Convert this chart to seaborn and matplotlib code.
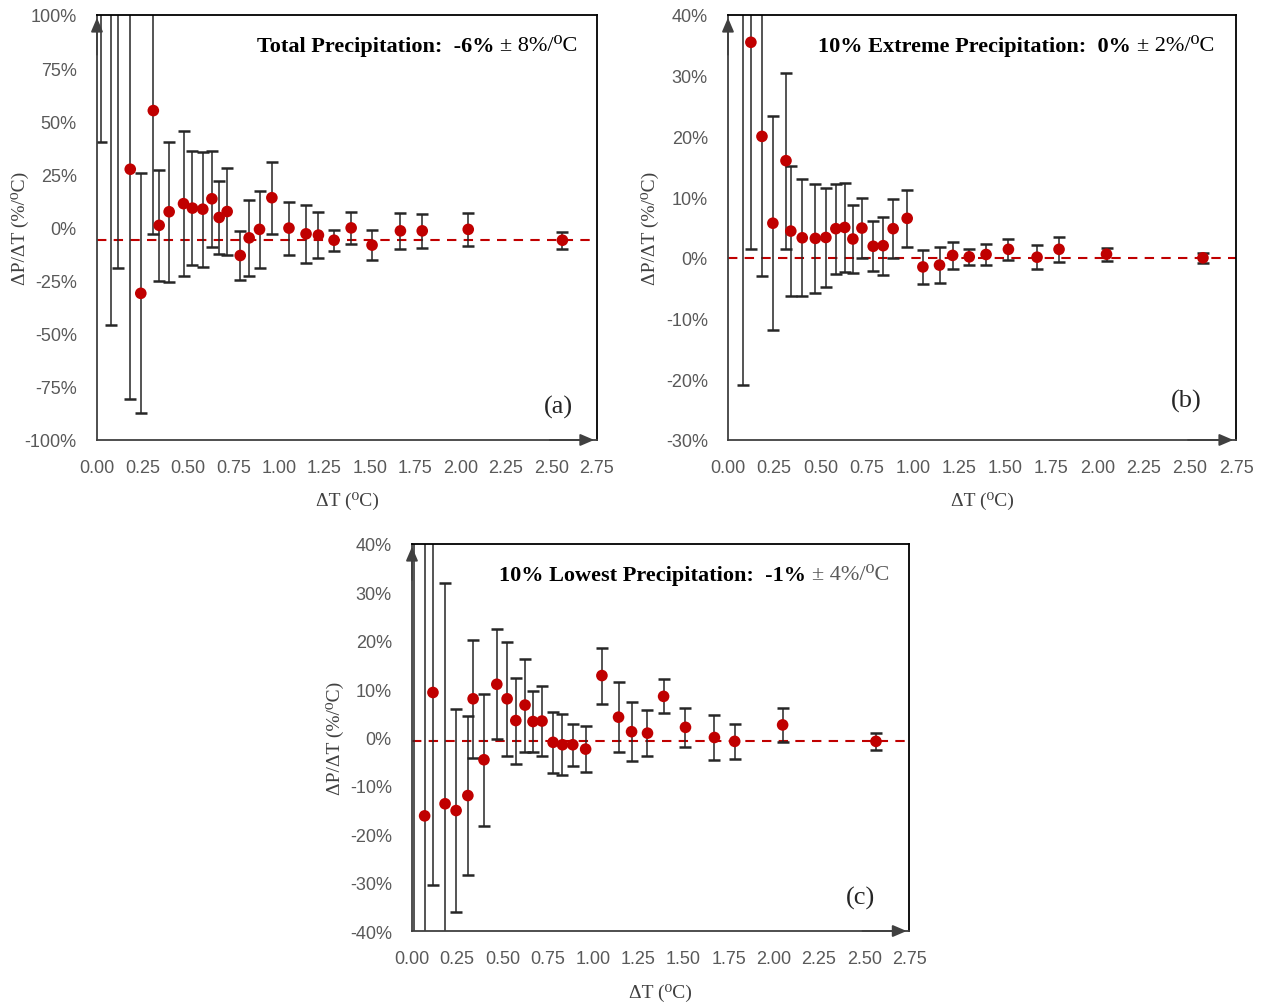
import matplotlib
matplotlib.use('Agg')
import matplotlib.pyplot as plt
from matplotlib.ticker import FuncFormatter, MultipleLocator
import pandas as pd
import seaborn as sns

# (a) Total precipitation
a_dt = [0.022, 0.077, 0.118, 0.183, 0.241, 0.31, 0.342, 0.397, 0.476, 0.525,
        0.582, 0.632, 0.672, 0.716, 0.788, 0.837, 0.894, 0.962, 1.056, 1.15,
        1.218, 1.304, 1.398, 1.513, 1.669, 1.789, 2.042, 2.56]
a_val = [160, 130, 140, 27.4, -31, 55, 1, 7.4, 11.2, 9.1,
         8.6, 13.5, 4.7, 7.5, -13.2, -4.9, -0.9, 14, -0.3, -3,
         -3.6, -6, -0.2, -8.3, -1.6, -1.6, -0.9, -6]
a_err = [120, 176, 159, 108, 56.5, 58, 26, 33, 34, 27,
         27, 22.5, 17, 20.5, 11.5, 18, 18, 17, 12.5, 13.5,
         11, 5, 7.5, 7, 8.5, 8, 7.7, 4]
a_mean = -6

# (b) 10% extreme precipitation
b_dt = [0.08, 0.124, 0.184, 0.243, 0.314, 0.34, 0.402, 0.473, 0.53, 0.584,
        0.632, 0.676, 0.725, 0.786, 0.84, 0.894, 0.97, 1.055, 1.145, 1.216,
        1.306, 1.397, 1.518, 1.673, 1.792, 2.049, 2.571]
b_val = [50, 35.5, 20, 5.7, 16, 4.4, 3.3, 3.2, 3.35, 4.8,
         5, 3.1, 4.9, 1.9, 2, 4.8, 6.5, -1.5, -1.2, 0.4,
         0.16, 0.55, 1.4, 0.1, 1.4, 0.6, 0]
b_err = [71, 34, 23, 17.6, 14.5, 10.7, 9.6, 9, 8.2, 7.4,
         7.3, 5.6, 4.9, 4.1, 4.8, 4.9, 4.7, 2.8, 2.9, 2.2,
         1.3, 1.7, 1.7, 2, 2.1, 1.05, 0.8]
b_mean = 0

# (c) 10% lowest precipitation
c_dt = [0.013, 0.07, 0.116, 0.183, 0.244, 0.309, 0.338, 0.398, 0.469, 0.526,
        0.574, 0.625, 0.669, 0.719, 0.78, 0.832, 0.889, 0.96, 1.05, 1.142,
        1.214, 1.302, 1.391, 1.512, 1.672, 1.784, 2.049, 2.565]
c_val = [-70, -16.2, 9.3, -13.7, -15.1, -12, 8, -4.6, 11, 8,
         3.5, 6.7, 3.3, 3.4, -1, -1.5, -1.5, -2.4, 12.8, 4.2,
         1.2, 0.9, 8.5, 2.1, 0, -0.8, 2.6, -0.8]
c_err = [120, 62, 39.8, 45.6, 21, 16.4, 12.2, 13.6, 11.4, 11.8,
         8.9, 9.6, 6.3, 7.3, 6.3, 6.3, 4.3, 4.7, 5.8, 7.2,
         6.1, 4.8, 3.5, 4, 4.6, 3.6, 3.5, 1.7]
c_mean = -0.8

x_ticks = [0.25 * i for i in range(12)]

RED = '#C00000'
GREY = '#595959'
SERIF = ['Liberation Serif', 'DejaVu Serif']

sns.set_theme(style='white')
plt.rcParams['font.family'] = ['Liberation Sans', 'DejaVu Sans']


def draw_panel(ax, dt, val, err, mean, ylim, ystep, head, tail, tail_color,
               letter, title_pos, letter_pos, xlab_y):
    df = pd.DataFrame({'dt': dt, 'val': val, 'err': err})

    ax.axhline(mean, color=RED, lw=1.5, dashes=(4.5, 3.5), zorder=1)
    ax.errorbar(df['dt'], df['val'], yerr=df['err'], fmt='none',
                ecolor='#262626', elinewidth=1.1, capsize=4.5, capthick=1.8, zorder=2)
    sns.scatterplot(data=df, x='dt', y='val', ax=ax, color=RED, s=70,
                    edgecolor='none', zorder=3, legend=False)

    ax.set_xlim(0, 2.75)
    ax.set_ylim(*ylim)
    ax.set_xticks(x_ticks)
    ax.xaxis.set_major_formatter(FuncFormatter(lambda v, p: f'{v:.2f}'))
    ax.yaxis.set_major_locator(MultipleLocator(ystep))
    ax.yaxis.set_major_formatter(FuncFormatter(lambda v, p: f'{v:.0f}%'))
    ax.tick_params(axis='both', direction='in', length=5, width=1,
                   color='#404040', labelcolor=GREY, labelsize=13)
    ax.tick_params(axis='y', pad=14.5)
    ax.tick_params(axis='x', pad=14)
    ax.set_xlabel('')
    ax.set_ylabel('')

    for s in ax.spines.values():
        s.set_color('black')
        s.set_linewidth(1.3)
    for s in ('left', 'bottom'):
        ax.spines[s].set_color('#404040')
    arrow = dict(arrowstyle='-|>,head_length=0.7,head_width=0.3',
                 color='#404040', lw=1.3)
    ax.annotate('', xy=(0, 1.0), xytext=(0, 0.9), xycoords='axes fraction',
                arrowprops=arrow, annotation_clip=False)
    ax.annotate('', xy=(1.0, 0), xytext=(0.9, 0), xycoords='axes fraction',
                arrowprops=arrow, annotation_clip=False)

    t2 = ax.text(title_pos[0], title_pos[1], tail, transform=ax.transAxes,
                 ha='right', va='center', fontsize=16, family=SERIF, color=tail_color)
    ax.annotate(head, xy=(0, 0.5), xycoords=t2, xytext=(-4, 0),
                textcoords='offset points', ha='right', va='center',
                fontsize=16, family=SERIF, fontweight='bold', color='black')
    ax.text(letter_pos[0], letter_pos[1], letter, transform=ax.transAxes,
            ha='center', va='center', fontsize=19, family=SERIF, color='#262626')

    ax.text(0.5, xlab_y, 'ΔT (⁰C)', transform=ax.transAxes, ha='center',
            va='center', fontsize=14, family=SERIF, color='#404040')
    ax.text(-0.154, 0.5, 'ΔP/ΔT (%/⁰C)', transform=ax.transAxes, ha='center',
            va='center', rotation=90, fontsize=14, family=SERIF, color='#404040')


fig = plt.figure(figsize=(12.61, 10.04), dpi=100)
ax_a = fig.add_axes([0.0769, 0.5608, 0.3965, 0.4233])
ax_b = fig.add_axes([0.5773, 0.5608, 0.4029, 0.4233])
ax_c = fig.add_axes([0.3267, 0.0717, 0.3945, 0.3855])

draw_panel(ax_a, a_dt, a_val, a_err, a_mean, (-100, 100), 25,
           'Total Precipitation:  -6%', '± 8%/⁰C', 'black', '(a)',
           (0.96, 0.927), (0.922, 0.08), -0.141)
draw_panel(ax_b, b_dt, b_val, b_err, b_mean, (-30, 40), 10,
           '10% Extreme Precipitation:  0%', '± 2%/⁰C', 'black', '(b)',
           (0.957, 0.927), (0.902, 0.094), -0.141)
draw_panel(ax_c, c_dt, c_val, c_err, c_mean, (-40, 40), 10,
           '10% Lowest Precipitation:  -1%', '± 4%/⁰C', GREY, '(c)',
           (0.959, 0.92), (0.902, 0.088), -0.158)

fig.savefig('out.png', dpi=100)
plt.close(fig)
